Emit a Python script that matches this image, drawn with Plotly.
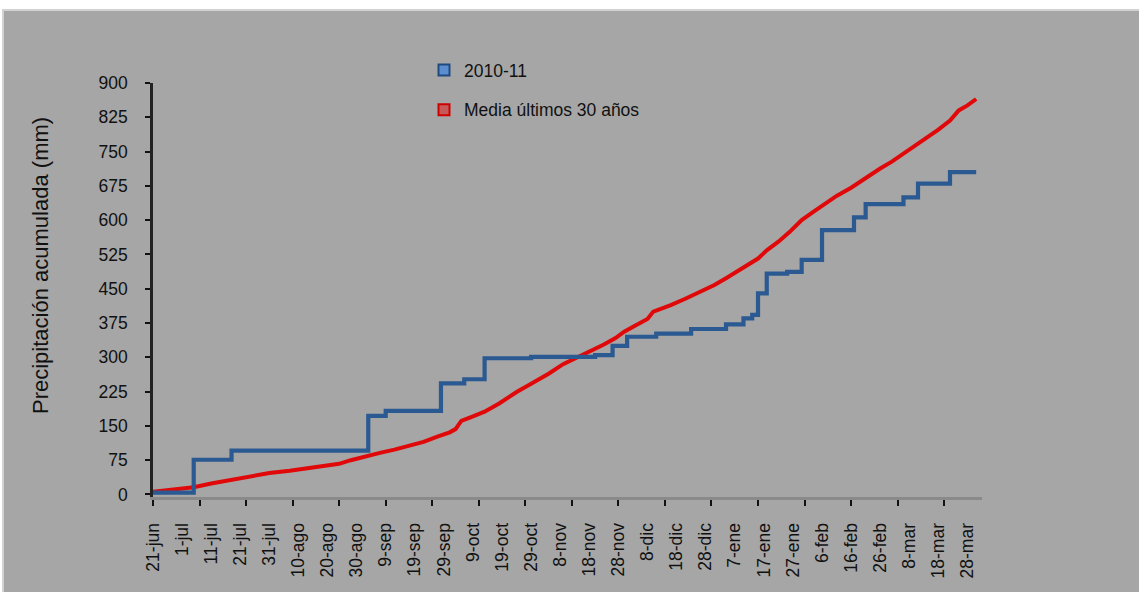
import pandas as pd
import plotly.graph_objects as go

# Hydrological year starts 21 June 2010; positions are days since that date
START = pd.Timestamp("2010-06-21")

# 2010-11 accumulated precipitation (mm): step changes (day offset, value)
obs_days = [0, 14, 27, 74, 80, 99, 107, 114, 130, 152, 158, 163, 173, 185,
            197, 203, 206, 208, 211, 218, 223, 230, 241, 245, 258, 263, 274, 283]
obs_mm = [4, 76, 96, 172, 183, 243, 252, 298, 301, 305, 325, 345, 352, 362,
          372, 385, 393, 440, 483, 487, 513, 578, 606, 635, 650, 680, 705, 705]

# 30-year mean accumulated precipitation (mm)
mean_days = [0, 7, 14, 20, 25, 30, 35, 40, 47, 52, 58, 64, 68, 73, 78, 83, 88,
             93, 98, 102, 104, 106, 110, 114, 119, 125, 130, 136, 141, 146,
             150, 155, 159, 162, 166, 170, 172, 175, 178, 183, 188, 193, 197,
             200, 204, 208, 211, 215, 219, 223, 227, 231, 235, 240, 245, 250,
             254, 258, 262, 266, 270, 274, 277, 280, 283]
mean_mm = [6, 10, 16, 24, 30, 37, 42, 47, 52, 57, 62, 67, 75, 84, 91, 98, 107,
           115, 127, 136, 143, 161, 171, 181, 199, 224, 242, 264, 285, 300,
           313, 328, 342, 356, 370, 384, 400, 406, 414, 428, 443, 458, 473,
           485, 500, 516, 534, 553, 575, 600, 618, 635, 653, 671, 693, 713,
           728, 745, 763, 781, 798, 818, 840, 851, 865]

# Category labels, one every ten days
tick_labels = ["21-jun", "1-jul", "11-jul", "21-jul", "31-jul", "10-ago",
               "20-ago", "30-ago", "9-sep", "19-sep", "29-sep", "9-oct",
               "19-oct", "29-oct", "8-nov", "18-nov", "28-nov", "8-dic",
               "18-dic", "28-dic", "7-ene", "17-ene", "27-ene", "6-feb",
               "16-feb", "26-feb", "8-mar", "18-mar", "28-mar"]
y_ticks = list(range(0, 901, 75))

SERIES_NAMES = ["2010-11", "Media últimos 30 años"]
Y_TITLE = "Precipitación acumulada (mm)"


def to_dates(days):
    return [START + pd.Timedelta(days=d) for d in days]


tick_dates = to_dates([10 * i for i in range(len(tick_labels))])

FONT = "Liberation Sans, Arial, sans-serif"
FS = 17.5
TXT = "#111111"
BLUE = "#2b5a92"
RED = "#e00808"

fig = go.Figure()

fig.add_trace(go.Scatter(
    x=to_dates(mean_days), y=mean_mm, mode="lines",
    line=dict(color=RED, width=4), showlegend=False,
))
fig.add_trace(go.Scatter(
    x=to_dates(obs_days), y=obs_mm, mode="lines",
    line=dict(color=BLUE, width=4.2, shape="hv"), showlegend=False,
))

# Legend entries with square swatches
fig.add_trace(go.Scatter(
    x=[None], y=[None], mode="markers", name=SERIES_NAMES[0], legendgroup="a",
    marker=dict(symbol="square", size=11, color="#5a8ed0",
                line=dict(color="#1f4a80", width=2)),
))
fig.add_trace(go.Scatter(
    x=[None], y=[None], mode="markers", name=SERIES_NAMES[1], legendgroup="b",
    marker=dict(symbol="square", size=11, color="#c65a5a",
                line=dict(color="#d00000", width=2)),
))

# Plot area geometry (pixels)
L, R, T, B = 153, 157, 83, 95
W, H = 1139, 592
pw, ph = W - L - R, H - T - B


def px_x(px):
    return (px - L) / pw


def px_y(py):
    return (H - B - py) / ph


# Grey panel behind the chart
fig.add_shape(
    type="rect", xref="paper", yref="paper", layer="below",
    x0=px_x(3), x1=px_x(W + 5), y0=px_y(H + 5), y1=px_y(10),
    fillcolor="#a6a6a6", line=dict(color="#d2d2d2", width=2),
)

# Vertical axis title
fig.add_annotation(
    text=Y_TITLE, textangle=-90, showarrow=False,
    xref="paper", yref="paper", x=px_x(40), y=px_y(266),
    xanchor="center", yanchor="middle",
    font=dict(family=FONT, size=22, color=TXT),
)

fig.update_layout(
    width=W, height=H,
    margin=dict(l=L, r=R, t=T, b=B),
    paper_bgcolor="white",
    plot_bgcolor="rgba(0,0,0,0)",
    font=dict(family=FONT, size=FS, color=TXT),
    legend=dict(
        x=px_x(424), y=px_y(52), xanchor="left", yanchor="top",
        bgcolor="rgba(0,0,0,0)", borderwidth=0,
        font=dict(family=FONT, size=FS, color=TXT),
        tracegroupgap=14, traceorder="grouped",
        itemwidth=30,
    ),
    xaxis=dict(
        range=[START, START + pd.Timedelta(days=285)],
        tickmode="array", tickvals=tick_dates, ticktext=tick_labels,
        tickangle=-90, ticks="", showgrid=False, zeroline=False,
        showline=True, linecolor="#8a8a8a", linewidth=3,
        ticklabelstandoff=16,
        tickfont=dict(family=FONT, size=FS, color=TXT),
        minor=dict(tick0=START, dtick=16 * 86400000, ticks="outside",
                   ticklen=6, tickwidth=2, tickcolor=TXT, showgrid=False),
    ),
    yaxis=dict(
        range=[-5.5, 900], tickmode="array", tickvals=y_ticks,
        ticks="outside", ticklen=5, tickwidth=2, tickcolor=TXT,
        showline=True, linecolor="#222222", linewidth=2.5,
        showgrid=False, zeroline=False,
        ticklabelstandoff=14,
        tickfont=dict(family=FONT, size=FS, color=TXT),
    ),
)

fig.write_html("out.html")
